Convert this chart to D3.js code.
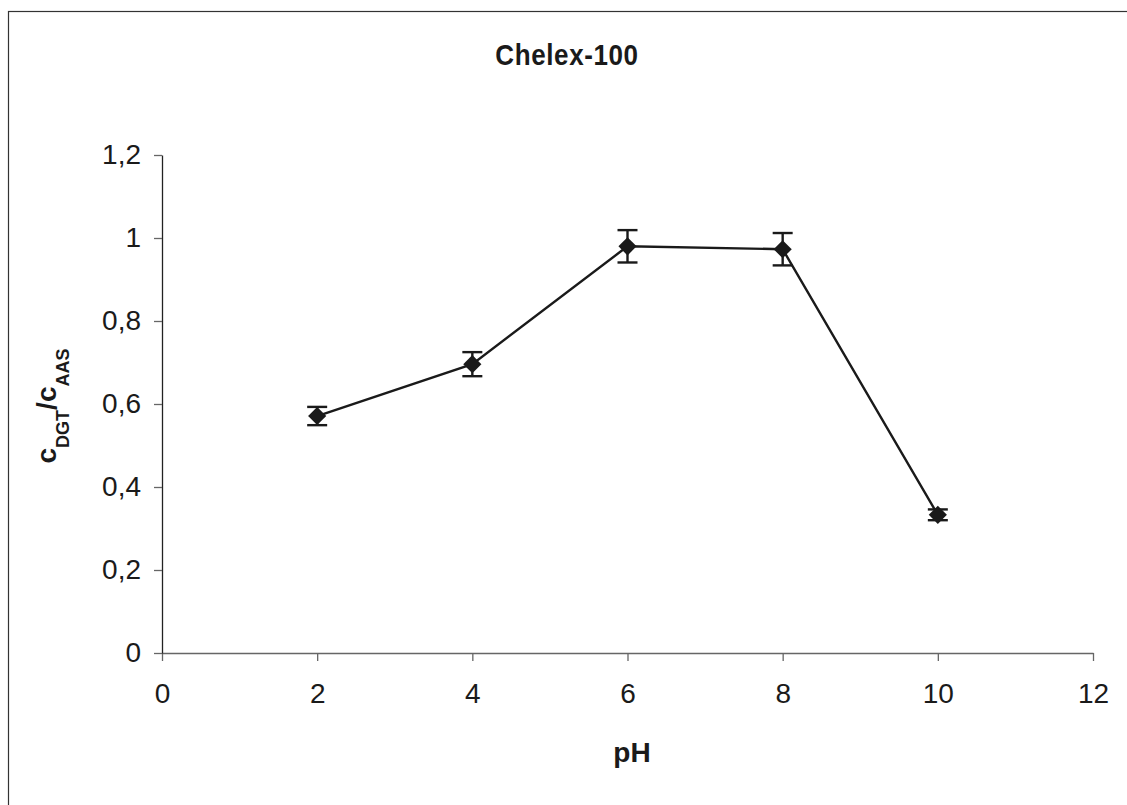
<!DOCTYPE html>
<html><head><meta charset="utf-8">
<script src="https://cdn.jsdelivr.net/npm/d3@7"></script>
<style>body{margin:0;background:#fff}svg{display:block}text{font-family:"Liberation Sans",Arial,sans-serif;fill:#1a1a1a}</style>
</head><body>
<svg id="c" width="1127" height="805"></svg>
<script>
const pH = [2, 4, 6, 8, 10];
const ratio = [0.571, 0.696, 0.980, 0.973, 0.333];
const errs = [0.022, 0.029, 0.039, 0.039, 0.013];
const xTicks = [0, 2, 4, 6, 8, 10, 12];
const yTicks = [0, 0.2, 0.4, 0.6, 0.8, 1, 1.2];
const yTickLabels = ["0", "0,2", "0,4", "0,6", "0,8", "1", "1,2"];

const svg = d3.select("#c");
svg.append("rect").attr("x", 8.5).attr("y", 11.5).attr("width", 1130).attr("height", 810)
  .attr("fill", "none").attr("stroke", "#333").attr("stroke-width", 1.2);

const x = d3.scaleLinear().domain([0, 12]).range([162, 1093]);
const y = d3.scaleLinear().domain([0, 1.2]).range([653, 155]);

const xAxis = svg.append("g").attr("transform", "translate(0,653)")
  .call(d3.axisBottom(x).tickValues(xTicks).tickSize(8).tickSizeOuter(0).tickPadding(22));
const yAxis = svg.append("g").attr("transform", "translate(162,0)")
  .call(d3.axisLeft(y).tickValues(yTicks).tickFormat((d, i) => yTickLabels[i]).tickSize(8).tickSizeOuter(0).tickPadding(13));
[xAxis, yAxis].forEach(a => {
  a.selectAll("line").attr("stroke", "#666").attr("stroke-width", 1.3);
  a.selectAll("text").style("font-size", "28px").style("font-family", '"Liberation Sans",Arial,sans-serif').attr("fill", "#1a1a1a");
});
xAxis.select("path").attr("stroke", "#666").attr("stroke-width", 1.4);
yAxis.select("path").attr("stroke", "#222").attr("stroke-width", 1.3);
xAxis.selectAll("text").attr("dy", "0.71em");
yAxis.selectAll("text").attr("dy", "0.3em");

const data = pH.map((p, i) => ({p, v: ratio[i], e: errs[i]}));
svg.append("path").datum(data)
  .attr("d", d3.line().x(d => x(d.p)).y(d => y(d.v)))
  .attr("fill", "none").attr("stroke", "#1a1a1a").attr("stroke-width", 2.4);

const eb = svg.append("g").attr("stroke", "#1a1a1a").attr("stroke-width", 2.4);
data.forEach(d => {
  eb.append("line").attr("x1", x(d.p)).attr("x2", x(d.p)).attr("y1", y(d.v + d.e)).attr("y2", y(d.v - d.e));
  [d.v + d.e, d.v - d.e].forEach(v => eb.append("line").attr("x1", x(d.p) - 10).attr("x2", x(d.p) + 10).attr("y1", y(v)).attr("y2", y(v)));
});

svg.append("g").selectAll("path").data(data).join("path")
  .attr("transform", d => `translate(${x(d.p)},${y(d.v)})`)
  .attr("d", d3.symbol(d3.symbolDiamond2, 210)())
  .attr("fill", "#1a1a1a");

svg.append("text").attr("transform", "translate(567,65) scale(1,1.1)").attr("text-anchor", "middle")
  .style("font-size", "26px").style("font-weight", "bold").style("letter-spacing", "0.6px").text("Chelex-100");
svg.append("text").attr("x", 632).attr("y", 762).attr("text-anchor", "middle")
  .style("font-size", "28px").style("font-weight", "bold").text("pH");
const yl = svg.append("text").attr("transform", "translate(56,406) rotate(-90)").attr("text-anchor", "middle")
  .style("font-size", "28px").style("font-weight", "bold");
yl.append("tspan").text("c");
yl.append("tspan").attr("dy", 13).style("font-size", "18px").text("DGT");
yl.append("tspan").attr("dy", -13).text("/c");
yl.append("tspan").attr("dy", 13).style("font-size", "18px").text("AAS");
</script>
</body></html>
